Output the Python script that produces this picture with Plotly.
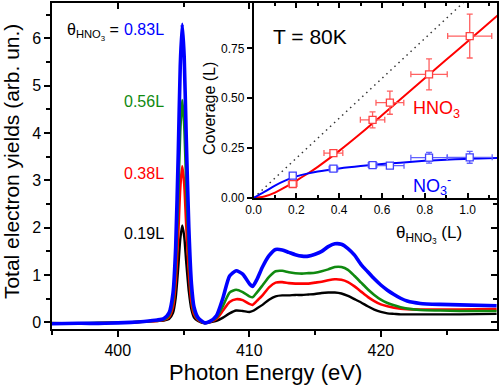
import plotly.graph_objects as go

# ---------------- main spectra data ----------------
energy = [395.0, 397.0, 399.0, 401.0, 402.0, 403.0,
          403.5, 403.9, 404.2, 404.4, 404.6, 404.75, 404.9, 405.05, 405.2, 405.4, 405.6, 405.8, 406.1,
          406.6, 407.0, 407.5, 408.0, 408.5, 409.0, 409.5, 410.0, 410.25, 410.6,
          411.0, 411.5, 412.0, 412.5, 413.0, 413.5, 414.0, 414.5, 415.0, 415.5,
          416.0, 416.5, 417.0, 417.5, 418.0, 418.5, 419.0, 419.5, 420.0, 420.5,
          421.0, 421.5, 422.0, 423.0, 424.5, 426.0, 428.8]

tey_083 = [-0.03, -0.02, -0.02, 0.0, 0.02, 0.05,
           0.08, 0.20, 0.62, 1.58, 3.59, 5.42, 6.30, 5.61, 3.97, 2.02, 0.82, 0.32, 0.10,
           -0.01, 0.02, 0.14, 0.52, 0.98, 1.09, 1.02, 0.82, 0.76, 0.92,
           1.17, 1.41, 1.54, 1.53, 1.48, 1.43, 1.40, 1.40, 1.44, 1.50,
           1.60, 1.66, 1.65, 1.56, 1.42, 1.22, 1.07, 0.92, 0.79, 0.68,
           0.59, 0.51, 0.45, 0.40, 0.38, 0.37, 0.35]

tey_056 = [-0.02, -0.02, -0.01, 0.0, 0.02, 0.04,
           0.06, 0.15, 0.46, 1.18, 2.68, 4.04, 4.70, 4.18, 2.96, 1.50, 0.61, 0.24, 0.07,
           -0.01, 0.02, 0.10, 0.35, 0.63, 0.69, 0.64, 0.55, 0.53, 0.64,
           0.78, 0.96, 1.08, 1.09, 1.06, 1.04, 1.03, 1.04, 1.05, 1.08,
           1.12, 1.17, 1.17, 1.11, 0.98, 0.84, 0.70, 0.58, 0.48, 0.41,
           0.36, 0.32, 0.29, 0.26, 0.25, 0.24, 0.24]

tey_038 = [-0.02, -0.03, -0.01, 0.0, 0.02, 0.03,
           0.05, 0.11, 0.33, 0.83, 1.88, 2.84, 3.30, 2.94, 2.08, 1.06, 0.43, 0.17, 0.05,
           -0.01, 0.01, 0.07, 0.25, 0.43, 0.49, 0.47, 0.39, 0.37, 0.46,
           0.57, 0.74, 0.84, 0.85, 0.83, 0.82, 0.82, 0.82, 0.84, 0.86,
           0.89, 0.91, 0.90, 0.85, 0.76, 0.65, 0.54, 0.45, 0.38, 0.34,
           0.31, 0.29, 0.28, 0.27, 0.27, 0.27, 0.28]

tey_019 = [-0.01, -0.02, -0.01, 0.0, 0.01, 0.03,
           0.04, 0.07, 0.20, 0.51, 1.17, 1.76, 2.05, 1.82, 1.29, 0.66, 0.27, 0.10, 0.03,
           -0.02, 0.0, 0.03, 0.10, 0.19, 0.25, 0.24, 0.22, 0.24, 0.30,
           0.37, 0.48, 0.55, 0.57, 0.57, 0.58, 0.58, 0.59, 0.60, 0.62,
           0.63, 0.63, 0.61, 0.56, 0.49, 0.42, 0.34, 0.27, 0.22, 0.19,
           0.18, 0.17, 0.17, 0.17, 0.17, 0.17, 0.18]

series_labels = ["0.19L", "0.38L", "0.56L", "0.83L"]

# ---------------- inset data ----------------
dose = [0.183, 0.373, 0.556, 0.637, 0.820, 1.010]
hno3_cov = [0.07, 0.225, 0.392, 0.478, 0.62, 0.812]
hno3_xerr = [0.02, 0.044, 0.057, 0.065, 0.085, 0.103]
hno3_yerr = [0.01, 0.015, 0.04, 0.058, 0.078, 0.11]
no3_cov = [0.112, 0.147, 0.165, 0.162, 0.202, 0.204]
no3_xerr = [0.015, 0.02, 0.02, 0.066, 0.085, 0.105]
no3_yerr = [0.008, 0.008, 0.01, 0.012, 0.027, 0.03]

fit_x = [0.0, 0.05, 0.1, 0.15, 0.2, 0.25, 0.3, 0.4, 0.5, 0.6, 0.7, 0.8, 0.9, 1.0, 1.14]
hno3_fit = [0.0, 0.007, 0.027, 0.055, 0.087, 0.12, 0.156, 0.236, 0.323, 0.415, 0.508, 0.6, 0.693, 0.785, 0.915]
no3_fit = [0.0, 0.03, 0.062, 0.088, 0.108, 0.122, 0.133, 0.148, 0.160, 0.170, 0.178, 0.186, 0.192, 0.197, 0.201]
ref_x = [0.0, 1.2]
ref_y = [0.0, 1.2]

FONT = "Arial, Liberation Sans, sans-serif"
BLUE = "#0000ff"
GREEN = "#108a10"
RED = "#ff0000"
BLACK = "#000000"

fig = go.Figure()

for vals, col, w in [(tey_019, BLACK, 2.4), (tey_038, RED, 2.6), (tey_056, GREEN, 2.6), (tey_083, BLUE, 3.6)]:
    fig.add_trace(go.Scatter(x=energy, y=vals, mode="lines", line=dict(color=col, width=w, shape="spline", smoothing=0.6),
                             showlegend=False, hoverinfo="skip", xaxis="x", yaxis="y"))

# dummy trace for the mirrored (inside-tick) axes
fig.add_trace(go.Scatter(x=[None], y=[None], xaxis="x3", yaxis="y3", showlegend=False, hoverinfo="skip"))

# inset
fig.add_trace(go.Scatter(x=ref_x, y=ref_y, mode="lines", line=dict(color="#333333", width=1.5, dash="1.5px,4px"),
                         xaxis="x2", yaxis="y2", showlegend=False, hoverinfo="skip"))
fig.add_trace(go.Scatter(x=fit_x, y=hno3_fit, mode="lines", line=dict(color=RED, width=2, shape="spline"),
                         xaxis="x2", yaxis="y2", showlegend=False, hoverinfo="skip"))
fig.add_trace(go.Scatter(x=fit_x, y=no3_fit, mode="lines", line=dict(color=BLUE, width=2, shape="spline"),
                         xaxis="x2", yaxis="y2", showlegend=False, hoverinfo="skip"))
fig.add_trace(go.Scatter(x=dose, y=hno3_cov, mode="markers",
                         marker=dict(symbol="square", size=7, color="white", line=dict(width=1.3, color="#ff4040")),
                         error_x=dict(type="data", array=hno3_xerr, color="#ff6060", thickness=1.3, width=3),
                         error_y=dict(type="data", array=hno3_yerr, color="#ff6060", thickness=1.3, width=3),
                         xaxis="x2", yaxis="y2", showlegend=False, hoverinfo="skip"))
fig.add_trace(go.Scatter(x=dose, y=no3_cov, mode="markers",
                         marker=dict(symbol="square", size=7, color="white", line=dict(width=1.3, color="#4040ff")),
                         error_x=dict(type="data", array=no3_xerr, color="#6060ff", thickness=1.3, width=3),
                         error_y=dict(type="data", array=no3_yerr, color="#6060ff", thickness=1.3, width=3),
                         xaxis="x2", yaxis="y2", showlegend=False, hoverinfo="skip"))

main_x = dict(range=[395, 428.83], tick0=400, dtick=10)
main_y = dict(range=[-0.14, 6.75], tick0=0, dtick=1)
axcommon = dict(showgrid=False, zeroline=False, linecolor="black", linewidth=1.5,
                tickcolor="black", tickwidth=1.5)

fig.update_layout(
    width=500, height=390,
    margin=dict(l=52, r=2, t=1, b=61),
    paper_bgcolor="white", plot_bgcolor="white",
    font=dict(family=FONT, color="black"),
    xaxis=dict(**main_x, **axcommon, domain=[0, 1], anchor="y", ticks="outside", ticklen=6,
               showline=True, mirror=True, tickfont=dict(size=16),
               minor=dict(dtick=5, tick0=400, ticks="outside", ticklen=4, tickcolor="black", tickwidth=1.5)),
    yaxis=dict(**main_y, **axcommon, domain=[0, 1], anchor="x", ticks="outside", ticklen=6,
               showline=True, mirror=True, tickfont=dict(size=16),
               minor=dict(dtick=0.5, tick0=0, ticks="outside", ticklen=4, tickcolor="black", tickwidth=1.5)),
    xaxis3=dict(**main_x, **axcommon, overlaying="x", side="top", anchor="y3", ticks="inside", ticklen=6,
                showline=False, showticklabels=False,
                minor=dict(dtick=5, tick0=400, ticks="inside", ticklen=4, tickcolor="black", tickwidth=1.5)),
    yaxis3=dict(**main_y, **axcommon, overlaying="y", side="right", anchor="x3", ticks="inside", ticklen=6,
                showline=False, showticklabels=False,
                minor=dict(dtick=0.5, tick0=0, ticks="inside", ticklen=4, tickcolor="black", tickwidth=1.5)),
    xaxis2=dict(**axcommon, domain=[0.453, 1.0], anchor="y2", range=[0, 1.1375], tick0=0, dtick=0.2,
                tickformat=".1f", ticks="inside", ticklen=5, showline=True, mirror="ticks",
                tickfont=dict(size=12),
                minor=dict(dtick=0.1, tick0=0, ticks="inside", ticklen=3, tickcolor="black", tickwidth=1.5)),
    yaxis2=dict(**axcommon, domain=[0.402, 1.0], anchor="x2", range=[0, 0.978], tick0=0, dtick=0.25,
                tickformat=".2f", ticks="outside", ticklen=5, showline=True, mirror=True,
                tickfont=dict(size=12)),
)

def px_x(p):
    return (p - 52) / 446

def px_y(p):
    return (329 - p) / 328

ann = []
# axis titles
ann.append(dict(text="Total electron yields (arb. un.)", x=px_x(11), y=px_y(161), xref="paper", yref="paper",
                textangle=-90, showarrow=False, font=dict(size=21), xanchor="center", yanchor="middle"))
ann.append(dict(text="Photon Energy (eV)", x=px_x(266), y=px_y(373), xref="paper", yref="paper",
                showarrow=False, font=dict(size=22), xanchor="center", yanchor="middle"))
ann.append(dict(text="Coverage (L)", x=px_x(210), y=px_y(107), xref="paper", yref="paper",
                textangle=-90, showarrow=False, font=dict(size=16), xanchor="center", yanchor="middle"))
ann.append(dict(text="θ<sub>HNO<sub>3</sub></sub> (L)", x=px_x(430), y=px_y(234), xref="paper", yref="paper",
                showarrow=False, font=dict(size=17), xanchor="center", yanchor="middle"))
# coverage labels
ann.append(dict(text="θ<sub>HNO<sub>3</sub></sub> =", x=px_x(121), y=px_y(30), xref="paper", yref="paper",
                showarrow=False, font=dict(size=16), xanchor="right", yanchor="middle"))
for lab, col, ypx in zip(series_labels, [BLACK, RED, GREEN, BLUE], [233, 173, 100, 28]):
    ann.append(dict(text=lab, x=px_x(166), y=px_y(ypx), xref="paper", yref="paper", showarrow=False,
                    font=dict(size=16, color=col), xanchor="right", yanchor="middle"))
# inset labels
ann.append(dict(text="T = 80K", x=px_x(271), y=px_y(35), xref="paper", yref="paper", showarrow=False,
                font=dict(size=21), xanchor="left", yanchor="middle"))
ann.append(dict(text="HNO<sub>3</sub>", x=px_x(412), y=px_y(108), xref="paper", yref="paper", showarrow=False,
                font=dict(size=18, color=RED), xanchor="left", yanchor="middle"))
ann.append(dict(text="NO<sub>3</sub><sup>-</sup>", x=px_x(412), y=px_y(185), xref="paper", yref="paper",
                showarrow=False, font=dict(size=18, color=BLUE), xanchor="left", yanchor="middle"))
fig.update_layout(annotations=ann)

fig.write_html("out.html", config={"displayModeBar": False},
               post_script="document.body.style.margin='0';document.body.style.overflow='hidden';")
